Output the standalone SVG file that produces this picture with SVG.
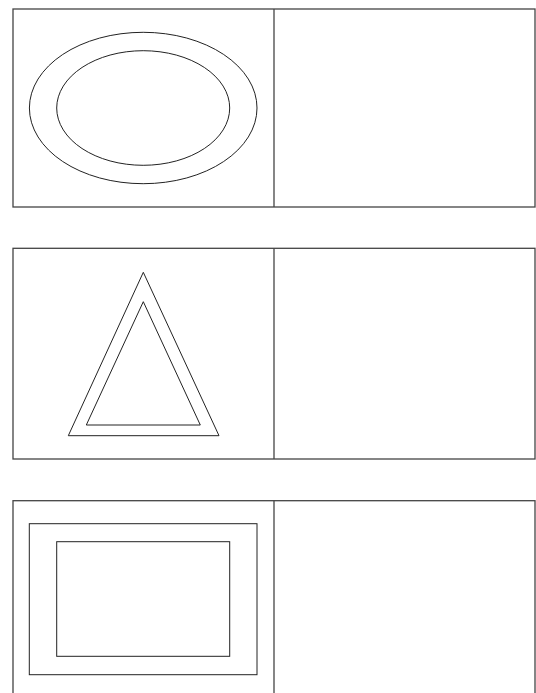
<svg xmlns="http://www.w3.org/2000/svg" width="536" height="693" viewBox="0 0 536 693">
<style>
.panel{fill:#fff;stroke:#444;stroke-width:1.3}
.shape{fill:none;stroke:#222;stroke-width:1}
</style>
<rect width="536" height="693" fill="#fff"/>
<g id="panel1">
<rect class="panel" x="13" y="9" width="522" height="198"/>
<line class="panel" x1="274" y1="9" x2="274" y2="207"/>
<ellipse class="shape" cx="143.2" cy="108" rx="113.8" ry="75.7"/>
<ellipse class="shape" cx="143.2" cy="108" rx="86.5" ry="57.3"/>
</g>
<g id="panel2">
<rect class="panel" x="13" y="248.3" width="522" height="210.7"/>
<line class="panel" x1="274" y1="248.3" x2="274" y2="459"/>
<polygon class="shape" points="143.3,272.3 219,435.7 68.3,435.7"/>
<polygon class="shape" points="143.3,301.7 200.3,425 86.3,425"/>
</g>
<g id="panel3">
<rect class="panel" x="13" y="500.7" width="522" height="200"/>
<line class="panel" x1="274" y1="500.7" x2="274" y2="700"/>
<rect class="shape" x="29.3" y="523.7" width="227.7" height="151"/>
<rect class="shape" x="56.7" y="541.7" width="173" height="114.6"/>
</g>
<g id="connectors"/>
</svg>
